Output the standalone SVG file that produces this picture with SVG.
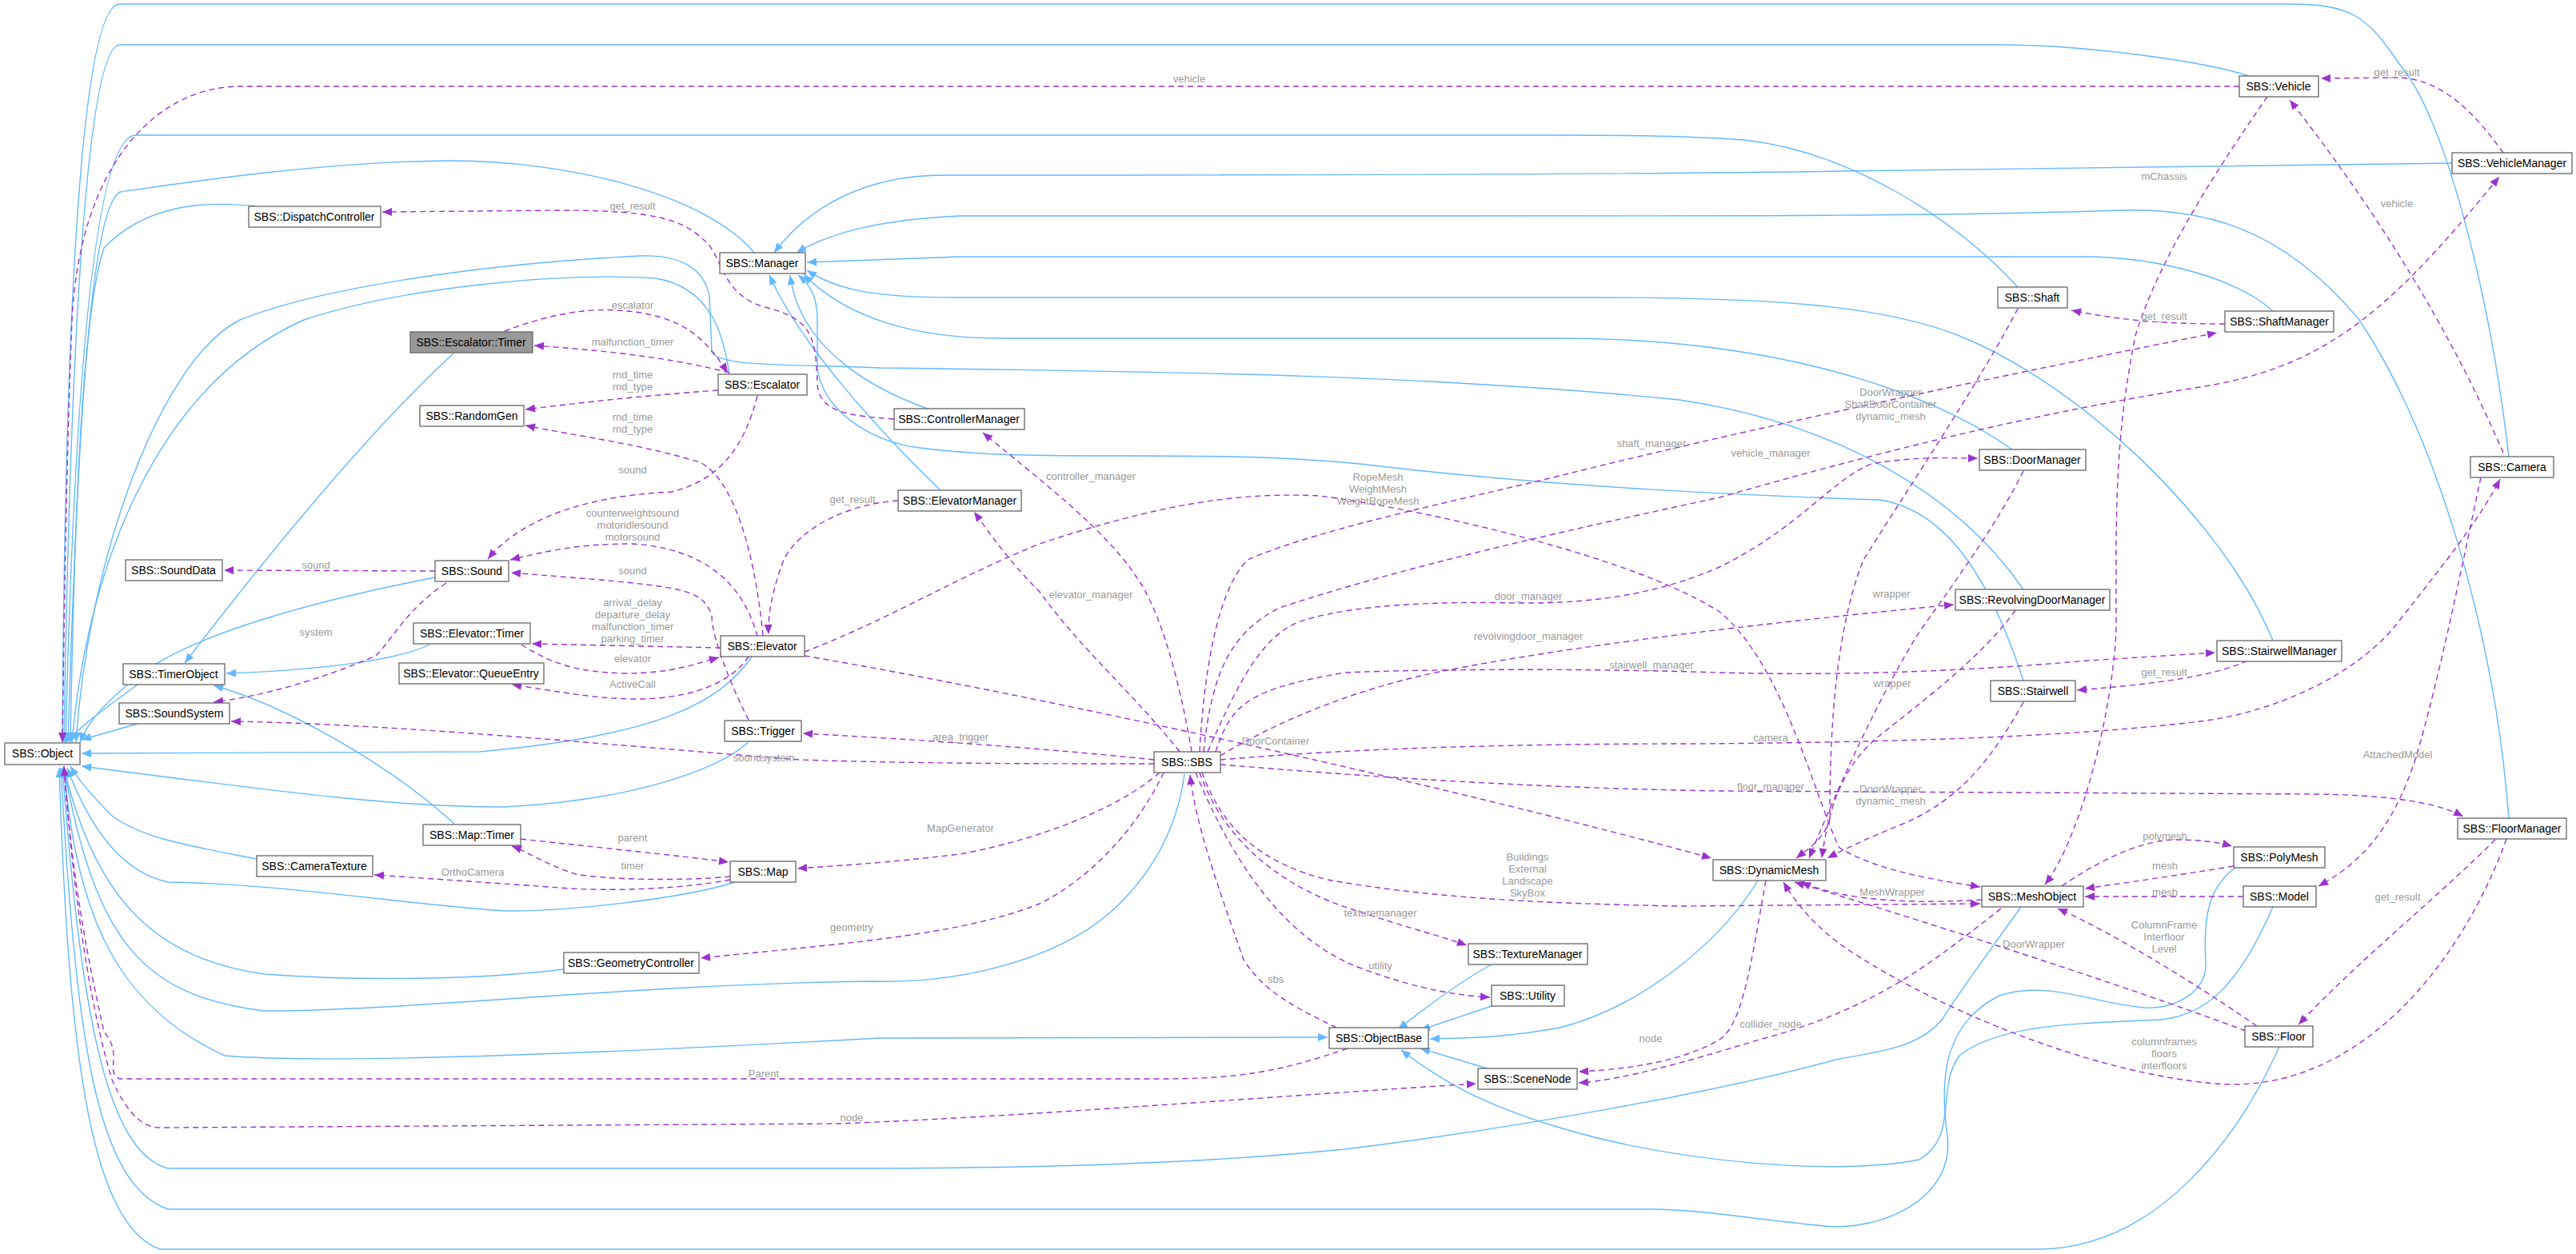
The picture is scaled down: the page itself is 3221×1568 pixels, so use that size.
<svg xmlns="http://www.w3.org/2000/svg" width="3221" height="1568" viewBox="0 0 3221 1568">
<style>
.n rect{fill:#fff;stroke:#666;stroke-width:1.3}
.n text{font-family:"Liberation Sans",Arial,sans-serif;font-size:14px;fill:#000;text-anchor:middle}
.b{fill:none;stroke:#63b8ff;stroke-width:1.4;marker-end:url(#ab)}
.p{fill:none;stroke:#9a32cd;stroke-width:1.4;stroke-dasharray:7,5;marker-end:url(#ap)}
.l{font-family:"Liberation Sans",Arial,sans-serif;font-size:13px;fill:#9a9a9a;text-anchor:middle}
</style>
<defs>
<marker id="ab" viewBox="0 0 12 10" refX="12" refY="5" markerWidth="13" markerHeight="10" markerUnits="userSpaceOnUse" orient="auto"><path d="M0,0L12,5L0,10z" fill="#63b8ff"/></marker>
<marker id="ap" viewBox="0 0 12 10" refX="12" refY="5" markerWidth="13" markerHeight="10" markerUnits="userSpaceOnUse" orient="auto"><path d="M0,0L12,5L0,10z" fill="#9a32cd"/></marker>
</defs>
<rect width="3221" height="1568" fill="#fff"/>
<g id="edges">
<path class="b" d="M3137,571 C3115,380 3060,150 3000,80 C2960,20 2940,5 2860,5 L150,5 C90,5 80,600 78,928"/>
<path class="b" d="M2812,95 C2750,75 2600,56 2500,56 L150,56 C100,56 85,600 80,928"/>
<path class="b" d="M2523,359 C2450,280 2320,190 2180,175 C2100,169 2000,169 1950,169 L170,169 C110,169 90,600 82,928"/>
<path class="b" d="M943,316 C880,240 700,200 560,201 C400,202 220,230 150,240 C110,260 95,600 85,928"/>
<path class="b" d="M320,258 C250,250 180,258 130,310 C100,400 92,700 88,928"/>
<path class="b" d="M912,468 C905,420 890,360 820,348 C700,340 500,360 380,400 C200,480 110,700 90,928"/>
<path class="b" d="M2530,737 C2450,620 2300,530 2100,500 C1800,470 1500,465 1100,460 C1000,455 900,460 890,440 L887,370 C880,335 850,318 800,320 C600,330 400,360 300,400 C200,450 110,700 95,928"/>
<path class="b" d="M3066,204 L2300,214 C2000,219 1500,219 1180,219 C1080,219 1010,260 968,316"/>
<path class="b" d="M3137,1023 C3120,800 3050,550 2950,400 C2850,280 2750,260 2650,263 C2450,270 2200,270 1800,270 L1200,270 C1100,275 1040,290 996,316"/>
<path class="b" d="M2842,389 C2800,350 2700,320 2600,321 L1200,321 L1009,328"/>
<path class="b" d="M2842,801 C2780,650 2600,480 2450,420 C2350,380 2200,372 2000,372 L1200,372 C1100,372 1050,365 1009,338"/>
<path class="b" d="M2516,562 C2400,480 2200,423 1950,423 L1250,423 C1150,423 1060,400 1005,343"/>
<path class="b" d="M2530,851 C2500,760 2450,640 2350,625 C2200,620 1950,610 1700,580 C1500,560 1300,580 1150,560 C1100,555 1030,520 1022,460 L1022,400 C1022,370 1012,355 998,344"/>
<path class="b" d="M1160,511 C1100,490 1000,440 988,344"/>
<path class="b" d="M1176,613 C1100,540 1000,430 962,344"/>
<path class="b" d="M568,441 C460,540 330,700 231,829"/>
<path class="b" d="M537,806 C500,825 400,838 283,842"/>
<path class="b" d="M568,1030 C480,950 350,880 267,857"/>
<path class="b" d="M544,722 C400,750 250,790 180,840 C140,870 110,900 100,928"/>
<path class="b" d="M940,821 C900,880 820,920 600,940 L102,942"/>
<path class="b" d="M936,928 C900,960 800,1000 631,1009 C500,1010 350,990 102,958"/>
<path class="b" d="M172,856 C140,880 110,900 82,928"/>
<path class="b" d="M172,905 L102,925"/>
<path class="b" d="M321,1074 C250,1060 180,1050 140,1020 C110,990 95,970 88,958"/>
<path class="b" d="M919,1103 C850,1125 700,1140 631,1139 C500,1130 350,1105 210,1103 C150,1090 110,1030 84,960"/>
<path class="b" d="M705,1212 C600,1225 450,1227 330,1218 C200,1200 120,1130 80,960"/>
<path class="b" d="M1481,968 C1470,1050 1430,1100 1400,1130 C1330,1200 1200,1230 1092,1227 C800,1230 500,1265 330,1264 C180,1245 120,1180 80,960"/>
<path class="b" d="M80,958 C95,1150 150,1260 281,1320 C400,1330 700,1320 1100,1298 L1660,1297"/>
<path class="b" d="M2527,1134 C2480,1200 2450,1240 2429,1274 C2400,1310 2350,1315 2295,1325 C2150,1365 1900,1410 1681,1437 C1500,1455 1300,1461 1050,1461 L210,1461 C130,1440 100,1250 78,960"/>
<path class="b" d="M2795,1085 C2760,1110 2755,1150 2758,1203 C2760,1240 2720,1262 2681,1260 C2620,1255 2560,1225 2500,1245 C2430,1280 2425,1350 2435,1420 C2445,1500 2350,1540 2281,1533 C2200,1525 2120,1512 2067,1512 L210,1512 C120,1480 95,1300 76,960"/>
<path class="b" d="M2850,1309 C2800,1420 2700,1560 2550,1562 L200,1562 C110,1530 85,1300 74,960"/>
<path class="b" d="M2842,1134 C2800,1230 2760,1270 2700,1275 C2600,1280 2500,1280 2450,1320 C2420,1360 2450,1420 2400,1450 C2300,1470 2100,1455 1950,1410 C1850,1380 1800,1350 1752,1313"/>
<path class="b" d="M2198,1101 C2150,1180 2050,1260 1950,1285 C1880,1298 1830,1298 1788,1299"/>
<path class="b" d="M1865,1206 C1820,1230 1770,1270 1748,1287"/>
<path class="b" d="M1865,1258 C1830,1270 1800,1280 1776,1288"/>
<path class="b" d="M1860,1336 L1776,1311"/>

<path class="p" d="M2800,108 L300,108 C200,108 100,200 90,400 C82,600 80,800 78,928"/>
<path class="p" d="M1118,524 C1060,520 1024,515 1022,480 C1020,420 1015,400 960,385 C900,370 905,320 880,300 C850,270 800,263 700,263 L478,265"/>
<path class="p" d="M912,466 C850,450 780,440 668,432"/>
<path class="p" d="M631,414 C680,395 730,385 770,388 C850,392 880,420 910,466"/>
<path class="p" d="M898,488 C800,495 730,503 657,512"/>
<path class="p" d="M954,795 C945,700 920,600 875,578 C800,555 720,545 657,532"/>
<path class="p" d="M947,495 C930,560 900,600 840,615 C730,620 650,650 610,699"/>
<path class="p" d="M947,796 C930,730 880,685 790,680 C720,680 680,690 638,700"/>
<path class="p" d="M936,900 C920,870 890,800 890,770 C880,740 860,735 750,725 L639,716"/>
<path class="p" d="M544,714 L280,713"/>
<path class="p" d="M558,729 C510,760 490,800 470,820 C400,850 330,870 267,878"/>
<path class="p" d="M901,810 L665,805"/>
<path class="p" d="M652,806 C690,830 720,840 780,842 C840,842 870,830 899,822"/>
<path class="p" d="M936,821 C910,860 850,875 790,874 C740,873 700,865 640,856"/>
<path class="p" d="M1123,626 C1060,630 1000,660 980,700 C965,740 960,770 961,793"/>
<path class="p" d="M1443,955 C1300,955 1150,955 1000,950 C800,935 500,905 289,902"/>
<path class="p" d="M1443,950 C1300,935 1150,925 1004,917"/>
<path class="p" d="M1450,966 C1400,1010 1300,1050 1200,1068 C1100,1080 1050,1082 997,1086"/>
<path class="p" d="M651,1049 C750,1060 850,1070 911,1078"/>
<path class="p" d="M913,1096 C850,1102 760,1100 720,1093 C680,1080 660,1065 640,1058"/>
<path class="p" d="M913,1100 C850,1112 760,1115 700,1110 C600,1103 530,1098 468,1094"/>
<path class="p" d="M1455,966 C1420,1040 1360,1100 1300,1130 C1200,1170 1050,1180 876,1198"/>
<path class="p" d="M1685,1311 C1600,1340 1550,1349 1450,1349 L150,1349 C130,1340 155,1320 130,1290 C110,1200 90,1100 80,958"/>
<path class="p" d="M80,958 C90,1100 110,1250 140,1350 C160,1395 180,1410 200,1410 L1050,1405 C1300,1395 1600,1370 1846,1355"/>
<path class="p" d="M1671,1285 C1620,1260 1580,1240 1555,1200 C1520,1100 1495,1030 1488,969"/>
<path class="p" d="M1500,966 C1530,1050 1600,1110 1700,1140 C1760,1160 1800,1170 1834,1182"/>
<path class="p" d="M1495,966 C1550,1100 1620,1180 1700,1210 C1780,1240 1830,1245 1863,1247"/>
<path class="p" d="M1503,966 C1530,1040 1580,1080 1660,1100 C1800,1125 1950,1130 2100,1133 L2476,1130"/>
<path class="p" d="M1510,940 C1550,850 1580,790 1632,775 C1700,755 1800,752 1900,754 C2000,755 2080,740 2150,709 C2250,660 2290,600 2340,580 C2400,570 2440,573 2473,573"/>
<path class="p" d="M1526,945 C1600,900 1700,860 1800,840 C2000,800 2300,770 2443,756"/>
<path class="p" d="M1520,940 C1540,880 1560,862 1681,841 C1800,836 2000,836 2150,841 C2300,845 2450,840 2611,826 L2770,816"/>
<path class="p" d="M1500,940 C1505,850 1520,740 1560,700 C1650,660 1850,620 1962,592 C2150,545 2450,480 2772,416"/>
<path class="p" d="M1505,940 C1515,840 1540,790 1600,760 C1750,710 1950,665 2150,622 C2350,565 2550,515 2751,484 C2900,460 2980,400 3125,221"/>
<path class="p" d="M1490,940 C1475,850 1450,760 1420,720 C1380,660 1300,600 1229,541"/>
<path class="p" d="M1475,940 C1420,870 1350,810 1300,740 C1260,700 1240,670 1218,640"/>
<path class="p" d="M1006,815 C1100,780 1200,720 1300,680 C1450,630 1550,615 1650,620 C1800,640 2050,700 2150,765 C2230,830 2270,1000 2300,1060 C2350,1090 2420,1100 2476,1109"/>
<path class="p" d="M1006,820 C1300,870 1800,980 2140,1073"/>
<path class="p" d="M1526,950 C1700,935 1900,930 2120,930 C2400,928 2600,920 2751,902 C2850,890 2950,840 2997,780 C3060,700 3100,650 3126,599"/>
<path class="p" d="M1526,956 C1700,970 1900,985 2150,989 L2900,993 C3000,995 3050,1005 3080,1021"/>
<path class="p" d="M2835,121 C2780,200 2700,320 2670,420 C2650,520 2646,600 2646,700 L2646,790 C2640,900 2600,1050 2557,1106"/>
<path class="p" d="M3130,566 C3080,450 3000,300 2863,125"/>
<path class="p" d="M3130,191 C3100,150 3060,100 3000,97 L2902,98"/>
<path class="p" d="M2782,405 C2700,405 2650,400 2590,388"/>
<path class="p" d="M2810,826 C2770,845 2700,855 2597,863"/>
<path class="p" d="M2523,386 C2480,470 2380,620 2330,700 C2290,800 2288,950 2288,1025 C2280,1050 2260,1062 2246,1073"/>
<path class="p" d="M2530,589 C2500,650 2450,720 2400,790 C2350,870 2300,980 2262,1073"/>
<path class="p" d="M2520,763 C2480,820 2400,880 2350,920 C2300,960 2285,1020 2278,1073"/>
<path class="p" d="M2530,878 C2490,950 2450,1000 2380,1030 C2330,1050 2300,1065 2285,1073"/>
<path class="p" d="M2208,1101 C2190,1200 2180,1280 2150,1300 C2100,1330 2020,1338 1974,1340"/>
<path class="p" d="M2502,1136 C2420,1200 2350,1260 2200,1300 C2100,1330 2030,1350 1974,1354"/>
<path class="p" d="M2478,1125 C2400,1130 2310,1128 2252,1103"/>
<path class="p" d="M2578,1108 C2640,1065 2690,1050 2720,1050 C2760,1050 2780,1055 2791,1058"/>
<path class="p" d="M2793,1083 C2720,1095 2650,1105 2607,1111"/>
<path class="p" d="M2805,1121 L2607,1121"/>
<path class="p" d="M2822,1283 C2760,1240 2650,1170 2573,1136"/>
<path class="p" d="M2808,1289 C2650,1230 2400,1150 2244,1103"/>
<path class="p" d="M3134,1049 C3080,1200 2950,1370 2770,1355 C2600,1340 2400,1250 2300,1180 C2260,1150 2240,1120 2230,1103"/>
<path class="p" d="M3120,1050 C3050,1120 2950,1200 2874,1281"/>
<path class="p" d="M3102,597 C3080,700 3050,850 3020,950 C2990,1040 2950,1080 2899,1108"/>
</g>
<g id="labels">
<text class="l" x="1487" y="103">vehicle</text>
<text class="l" x="791" y="262">get_result</text>
<text class="l" x="791" y="386">escalator</text>
<text class="l" x="791" y="432">malfunction_timer</text>
<text class="l" x="791" y="473">rnd_time</text>
<text class="l" x="791" y="488">rnd_type</text>
<text class="l" x="791" y="526">rnd_time</text>
<text class="l" x="791" y="541">rnd_type</text>
<text class="l" x="791" y="592">sound</text>
<text class="l" x="1066" y="629">get_result</text>
<text class="l" x="791" y="646">counterweightsound</text>
<text class="l" x="791" y="661">motoridlesound</text>
<text class="l" x="791" y="676">motorsound</text>
<text class="l" x="395" y="711">sound</text>
<text class="l" x="791" y="718">sound</text>
<text class="l" x="791" y="758">arrival_delay</text>
<text class="l" x="791" y="773">departure_delay</text>
<text class="l" x="791" y="788">malfunction_timer</text>
<text class="l" x="791" y="803">parking_timer</text>
<text class="l" x="395" y="795">system</text>
<text class="l" x="791" y="828">elevator</text>
<text class="l" x="791" y="860">ActiveCall</text>
<text class="l" x="1201" y="926">area_trigger</text>
<text class="l" x="955" y="952">soundsystem</text>
<text class="l" x="1201" y="1040">MapGenerator</text>
<text class="l" x="791" y="1052">parent</text>
<text class="l" x="791" y="1087">timer</text>
<text class="l" x="591" y="1095">OrthoCamera</text>
<text class="l" x="1065" y="1164">geometry</text>
<text class="l" x="955" y="1347">Parent</text>
<text class="l" x="1065" y="1402">node</text>
<text class="l" x="1364" y="600">controller_manager</text>
<text class="l" x="1364" y="748">elevator_manager</text>
<text class="l" x="1723" y="601">RopeMesh</text>
<text class="l" x="1723" y="616">WeightMesh</text>
<text class="l" x="1723" y="631">WeightRopeMesh</text>
<text class="l" x="2065" y="559">shaft_manager</text>
<text class="l" x="2214" y="571">vehicle_manager</text>
<text class="l" x="1911" y="750">door_manager</text>
<text class="l" x="1911" y="800">revolvingdoor_manager</text>
<text class="l" x="2065" y="836">stairwell_manager</text>
<text class="l" x="1595" y="931">DoorContainer</text>
<text class="l" x="2214" y="927">camera</text>
<text class="l" x="2214" y="988">floor_manager</text>
<text class="l" x="1910" y="1076">Buildings</text>
<text class="l" x="1910" y="1091">External</text>
<text class="l" x="1910" y="1106">Landscape</text>
<text class="l" x="1910" y="1121">SkyBox</text>
<text class="l" x="1726" y="1146">texturemanager</text>
<text class="l" x="1726" y="1212">utility</text>
<text class="l" x="1595" y="1229">sbs</text>
<text class="l" x="2064" y="1303">node</text>
<text class="l" x="2214" y="1285">collider_node</text>
<text class="l" x="2997" y="95">get_result</text>
<text class="l" x="2706" y="225">mChassis</text>
<text class="l" x="2997" y="259">vehicle</text>
<text class="l" x="2706" y="400">get_result</text>
<text class="l" x="2364" y="495">DoorWrapper</text>
<text class="l" x="2364" y="510">ShaftDoorContainer</text>
<text class="l" x="2364" y="525">dynamic_mesh</text>
<text class="l" x="2365" y="747">wrapper</text>
<text class="l" x="2706" y="845">get_result</text>
<text class="l" x="2366" y="859">wrapper</text>
<text class="l" x="2998" y="948">AttachedModel</text>
<text class="l" x="2364" y="991">DoorWrapper</text>
<text class="l" x="2364" y="1006">dynamic_mesh</text>
<text class="l" x="2707" y="1050">polymesh</text>
<text class="l" x="2707" y="1087">mesh</text>
<text class="l" x="2707" y="1120">mesh</text>
<text class="l" x="2366" y="1120">MeshWrapper</text>
<text class="l" x="2998" y="1126">get_result</text>
<text class="l" x="2706" y="1161">ColumnFrame</text>
<text class="l" x="2706" y="1176">Interfloor</text>
<text class="l" x="2706" y="1191">Level</text>
<text class="l" x="2543" y="1185">DoorWrapper</text>
<text class="l" x="2706" y="1307">columnframes</text>
<text class="l" x="2706" y="1322">floors</text>
<text class="l" x="2706" y="1337">interfloors</text>
</g>
<g id="n_Object" class="n"><rect x="6" y="929" width="94" height="27"/><text x="53" y="947">SBS::Object</text></g>
<g id="n_TimerObject" class="n"><rect x="154" y="830" width="127" height="26"/><text x="217" y="848">SBS::TimerObject</text></g>
<g id="n_SoundSystem" class="n"><rect x="149" y="879" width="138" height="26"/><text x="218" y="897">SBS::SoundSystem</text></g>
<g id="n_SoundData" class="n"><rect x="157" y="700" width="121" height="26"/><text x="217" y="718">SBS::SoundData</text></g>
<g id="n_Sound" class="n"><rect x="544" y="701" width="92" height="26"/><text x="590" y="719">SBS::Sound</text></g>
<g id="n_DispatchController" class="n"><rect x="311" y="258" width="165" height="26"/><text x="393" y="276">SBS::DispatchController</text></g>
<g id="n_EscalatorTimer" class="n"><rect x="513" y="415" width="153" height="26" style="fill:#999"/><text x="589" y="433">SBS::Escalator::Timer</text></g>
<g id="n_RandomGen" class="n"><rect x="525" y="507" width="130" height="26"/><text x="590" y="525">SBS::RandomGen</text></g>
<g id="n_ElevatorTimer" class="n"><rect x="517" y="779" width="146" height="26"/><text x="590" y="797">SBS::Elevator::Timer</text></g>
<g id="n_QueueEntry" class="n"><rect x="499" y="829" width="181" height="26"/><text x="589" y="847">SBS::Elevator::QueueEntry</text></g>
<g id="n_MapTimer" class="n"><rect x="529" y="1031" width="122" height="26"/><text x="590" y="1049">SBS::Map::Timer</text></g>
<g id="n_CameraTexture" class="n"><rect x="321" y="1070" width="145" height="26"/><text x="393" y="1088">SBS::CameraTexture</text></g>
<g id="n_Manager" class="n"><rect x="900" y="316" width="107" height="26"/><text x="953" y="334">SBS::Manager</text></g>
<g id="n_Escalator" class="n"><rect x="898" y="468" width="111" height="26"/><text x="953" y="486">SBS::Escalator</text></g>
<g id="n_Elevator" class="n"><rect x="901" y="795" width="105" height="26"/><text x="953" y="813">SBS::Elevator</text></g>
<g id="n_Trigger" class="n"><rect x="906" y="901" width="96" height="26"/><text x="954" y="919">SBS::Trigger</text></g>
<g id="n_Map" class="n"><rect x="913" y="1077" width="82" height="26"/><text x="954" y="1095">SBS::Map</text></g>
<g id="n_GeometryController" class="n"><rect x="705" y="1191" width="169" height="26"/><text x="789" y="1209">SBS::GeometryController</text></g>
<g id="n_ControllerManager" class="n"><rect x="1118" y="511" width="163" height="26"/><text x="1199" y="529">SBS::ControllerManager</text></g>
<g id="n_ElevatorManager" class="n"><rect x="1123" y="613" width="154" height="26"/><text x="1200" y="631">SBS::ElevatorManager</text></g>
<g id="n_SBS" class="n"><rect x="1443" y="940" width="83" height="26"/><text x="1484" y="958">SBS::SBS</text></g>
<g id="n_TextureManager" class="n"><rect x="1836" y="1180" width="149" height="26"/><text x="1910" y="1198">SBS::TextureManager</text></g>
<g id="n_Utility" class="n"><rect x="1865" y="1232" width="91" height="26"/><text x="1910" y="1250">SBS::Utility</text></g>
<g id="n_ObjectBase" class="n"><rect x="1662" y="1285" width="124" height="26"/><text x="1724" y="1303">SBS::ObjectBase</text></g>
<g id="n_SceneNode" class="n"><rect x="1848" y="1336" width="124" height="26"/><text x="1910" y="1354">SBS::SceneNode</text></g>
<g id="n_Shaft" class="n"><rect x="2498" y="359" width="87" height="26"/><text x="2541" y="377">SBS::Shaft</text></g>
<g id="n_ShaftManager" class="n"><rect x="2782" y="389" width="136" height="26"/><text x="2850" y="407">SBS::ShaftManager</text></g>
<g id="n_DoorManager" class="n"><rect x="2475" y="562" width="133" height="26"/><text x="2541" y="580">SBS::DoorManager</text></g>
<g id="n_RevolvingDoorManager" class="n"><rect x="2445" y="737" width="193" height="26"/><text x="2541" y="755">SBS::RevolvingDoorManager</text></g>
<g id="n_Stairwell" class="n"><rect x="2489" y="851" width="106" height="26"/><text x="2542" y="869">SBS::Stairwell</text></g>
<g id="n_StairwellManager" class="n"><rect x="2772" y="801" width="156" height="26"/><text x="2850" y="819">SBS::StairwellManager</text></g>
<g id="n_DynamicMesh" class="n"><rect x="2142" y="1075" width="141" height="26"/><text x="2212" y="1093">SBS::DynamicMesh</text></g>
<g id="n_MeshObject" class="n"><rect x="2478" y="1108" width="127" height="26"/><text x="2541" y="1126">SBS::MeshObject</text></g>
<g id="n_PolyMesh" class="n"><rect x="2793" y="1059" width="114" height="26"/><text x="2850" y="1077">SBS::PolyMesh</text></g>
<g id="n_Model" class="n"><rect x="2805" y="1108" width="91" height="26"/><text x="2850" y="1126">SBS::Model</text></g>
<g id="n_Floor" class="n"><rect x="2807" y="1283" width="85" height="26"/><text x="2849" y="1301">SBS::Floor</text></g>
<g id="n_FloorManager" class="n"><rect x="3073" y="1023" width="136" height="26"/><text x="3141" y="1041">SBS::FloorManager</text></g>
<g id="n_Vehicle" class="n"><rect x="2800" y="95" width="99" height="26"/><text x="2849" y="113">SBS::Vehicle</text></g>
<g id="n_VehicleManager" class="n"><rect x="3066" y="191" width="150" height="26"/><text x="3141" y="209">SBS::VehicleManager</text></g>
<g id="n_Camera" class="n"><rect x="3089" y="571" width="104" height="26"/><text x="3141" y="589">SBS::Camera</text></g>
</svg>
